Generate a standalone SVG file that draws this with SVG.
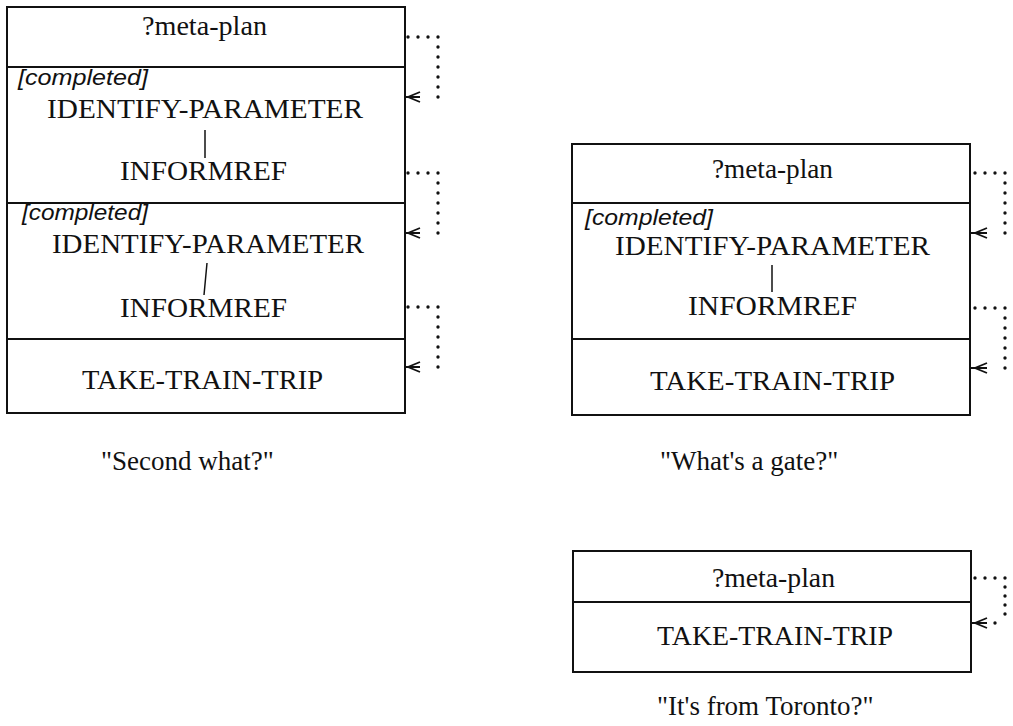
<svg xmlns="http://www.w3.org/2000/svg" width="1013" height="726" viewBox="0 0 1013 726">
<style>
.box{fill:#fff;stroke:#111;stroke-width:2}
.div{stroke:#111;stroke-width:2}
.t{font-family:"Liberation Serif","Times New Roman",serif;font-size:27px;fill:#111}
.c{font-family:"Liberation Sans",Arial,sans-serif;font-style:italic;font-size:22px;fill:#111}
.cap{font-family:"Liberation Serif","Times New Roman",serif;font-size:27px;fill:#111}
.lnk{stroke:#111;stroke-width:1.5}
.dot{fill:none;stroke:#111;stroke-width:3.4;stroke-linecap:round;stroke-dasharray:0 10}
.dot9{fill:none;stroke:#111;stroke-width:3.4;stroke-linecap:round;stroke-dasharray:0 9}
.arr{fill:none;stroke:#111;stroke-width:1.8}
</style>
<rect width="1013" height="726" fill="#fff"/>

<g id="stack-second-what">
<rect class="box" x="7" y="7" width="398" height="406"/>
<line class="div" x1="7" y1="67" x2="405" y2="67"/>
<line class="div" x1="7" y1="203" x2="405" y2="203"/>
<line class="div" x1="7" y1="339" x2="405" y2="339"/>
<text class="t" x="142" y="35" textLength="125" lengthAdjust="spacingAndGlyphs">?meta-plan</text>
<text class="c" x="18" y="85" textLength="130" lengthAdjust="spacingAndGlyphs">[completed]</text>
<text class="t" x="47" y="118" textLength="316" lengthAdjust="spacingAndGlyphs">IDENTIFY-PARAMETER</text>
<line class="lnk" x1="205" y1="130" x2="205" y2="158"/>
<text class="t" x="120" y="180" textLength="167" lengthAdjust="spacingAndGlyphs">INFORMREF</text>
<text class="c" x="22" y="220" textLength="126" lengthAdjust="spacingAndGlyphs">[completed]</text>
<text class="t" x="52" y="253" textLength="312" lengthAdjust="spacingAndGlyphs">IDENTIFY-PARAMETER</text>
<line class="lnk" x1="207" y1="263" x2="204" y2="295"/>
<text class="t" x="120" y="317" textLength="167" lengthAdjust="spacingAndGlyphs">INFORMREF</text>
<text class="t" x="82" y="389" textLength="241" lengthAdjust="spacingAndGlyphs">TAKE-TRAIN-TRIP</text>
<text class="cap" x="101" y="470">"Second what?"</text>
</g>

<g id="stack-whats-a-gate">
<rect class="box" x="572" y="144" width="398" height="271"/>
<line class="div" x1="572" y1="203" x2="970" y2="203"/>
<line class="div" x1="572" y1="339" x2="970" y2="339"/>
<text class="t" x="712" y="178" textLength="121" lengthAdjust="spacingAndGlyphs">?meta-plan</text>
<text class="c" x="585" y="225" textLength="128" lengthAdjust="spacingAndGlyphs">[completed]</text>
<text class="t" x="615" y="255" textLength="315" lengthAdjust="spacingAndGlyphs">IDENTIFY-PARAMETER</text>
<line class="lnk" x1="772" y1="265" x2="772" y2="292"/>
<text class="t" x="688" y="315" textLength="169" lengthAdjust="spacingAndGlyphs">INFORMREF</text>
<text class="t" x="650" y="390" textLength="245" lengthAdjust="spacingAndGlyphs">TAKE-TRAIN-TRIP</text>
<text class="cap" x="660" y="470">"What's a gate?"</text>
</g>

<g id="stack-from-toronto">
<rect class="box" x="573" y="551" width="398" height="121"/>
<line class="div" x1="573" y1="602" x2="971" y2="602"/>
<text class="t" x="712" y="587" textLength="123" lengthAdjust="spacingAndGlyphs">?meta-plan</text>
<text class="t" x="657" y="645" textLength="236" lengthAdjust="spacingAndGlyphs">TAKE-TRAIN-TRIP</text>
<text class="cap" x="657" y="715">"It's from Toronto?"</text>
</g>

<g id="connectors">
<path class="dot" d="M408 37 H438 V97 H428"/>
<path class="arr" d="M405 97 H420 M420 92 L408 97 L420 102"/>
<path class="dot" d="M408 173 H438 V233 H428"/>
<path class="arr" d="M405 233 H420 M420 228 L408 233 L420 238"/>
<path class="dot" d="M408 307 H438 V367 H428"/>
<path class="arr" d="M405 367 H420 M420 362 L408 367 L420 372"/>

<path class="dot" d="M975 173 H1005 V233 H995"/>
<path class="arr" d="M971 233 H987 M987 228 L975 233 L987 238"/>
<path class="dot" d="M975 308 H1005 V368 H995"/>
<path class="arr" d="M971 368 H987 M987 363 L975 368 L987 373"/>

<path class="dot" d="M975 578 H1005"/>
<path class="dot9" d="M1005 578 V623"/>
<path class="dot" d="M995 623 H995.01"/>
<path class="arr" d="M972 623 H987 M987 618 L975 623 L987 628"/>
</g>
</svg>
